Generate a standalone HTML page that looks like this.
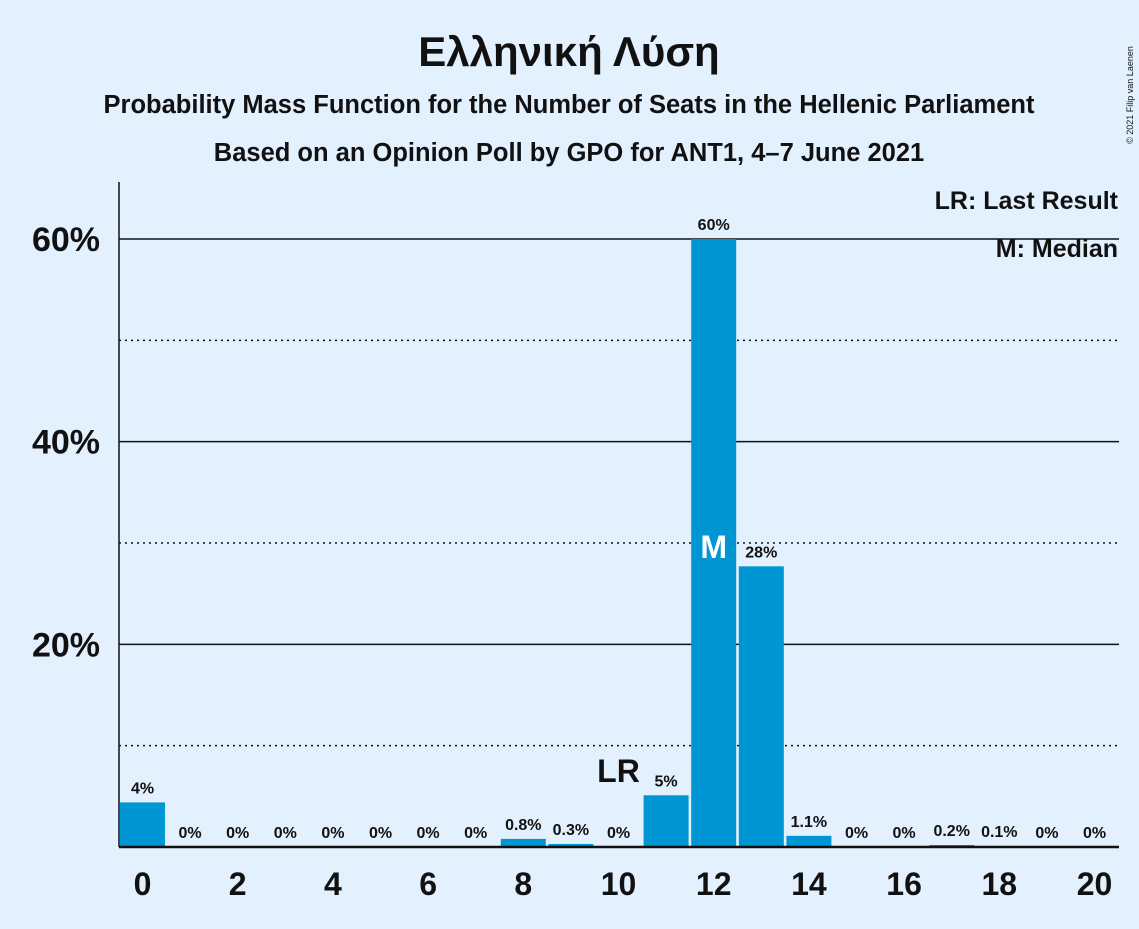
<!DOCTYPE html>
<html><head><meta charset="utf-8"><style>
body{margin:0;background:#e3f0fd;font-family:"Liberation Sans",sans-serif}
svg text{font-family:"Liberation Sans",sans-serif;font-weight:bold;fill:#111}
</style></head><body>
<svg id="c" width="1139" height="924">
<rect width="1139" height="924" fill="#e3f0fd"/>
<text x="569" y="66" font-size="42" text-anchor="middle">Ελληνική Λύση</text>
<text x="569" y="113" font-size="25.5" text-anchor="middle">Probability Mass Function for the Number of Seats in the Hellenic Parliament</text>
<text x="569" y="161" font-size="25.5" text-anchor="middle">Based on an Opinion Poll by GPO for ANT1, 4–7 June 2021</text>
<text x="1133" y="95" font-size="9" transform="rotate(-90 1133 95)" text-anchor="middle" style="font-weight:normal">© 2021 Filip van Laenen</text>
<text x="1118" y="209" font-size="25" text-anchor="end">LR: Last Result</text>
<text x="1118" y="257" font-size="25" text-anchor="end">M: Median</text>
<g id="g"></g>
</svg>
<script>
const seats=[0,1,2,3,4,5,6,7,8,9,10,11,12,13,14,15,16,17,18,19,20];
const probs=[4.4,0,0,0,0,0,0,0,0.8,0.3,0,5.1,60,27.7,1.1,0,0,0.2,0.1,0,0];
const labels=["4%","0%","0%","0%","0%","0%","0%","0%","0.8%","0.3%","0%","5%","60%","28%","1.1%","0%","0%","0.2%","0.1%","0%","0%"];
const yTicks=[20,40,60];
const yMinor=[10,30,50];
const xTicks=[0,2,4,6,8,10,12,14,16,18,20];
const lastResult=10, median=12;
const NS="http://www.w3.org/2000/svg",g=document.getElementById('g');
const x=s=>142.5+s*47.6, y=v=>847-v*10.133;
function mk(t,a,txt){const e=document.createElementNS(NS,t);for(const k in a)e.setAttribute(k,a[k]);if(txt!=null)e.textContent=txt;g.appendChild(e);return e;}
yMinor.forEach(v=>{const e=mk('line',{x1:119,x2:1119,y1:y(v),y2:y(v),stroke:'#111','stroke-width':1.5,'stroke-dasharray':'2,4'});

});
yTicks.forEach(v=>{const e=mk('line',{x1:119,x2:1119,y1:y(v),y2:y(v),stroke:'#111','stroke-width':1.5});


const t=mk('text',{x:100,y:y(v)+12,'font-size':34,'text-anchor':'end'},v+'%');

});
seats.forEach((s,i)=>{const p=probs[i];
if(p>0){const r=mk('rect',{x:x(s)-22.5,y:y(p),width:45,height:847-y(p),fill:'#0095d3'});

}
const t=mk('text',{x:x(s),y:y(p)-9,'font-size':16,'text-anchor':'middle'},labels[i]);

});
const lr=mk('text',{x:x(lastResult),y:y(probs[lastResult])-65,'font-size':32,'text-anchor':'middle'},'LR');


const m=mk('text',{x:x(median),y:558,'font-size':32,'text-anchor':'middle',style:'fill:#fff'},'M');


const ax=mk('line',{x1:119,x2:1119,y1:847,y2:847,stroke:'#111','stroke-width':2.5});


const ay=mk('line',{x1:119,x2:119,y1:182,y2:847,stroke:'#111','stroke-width':1.5});


xTicks.forEach(s=>{const t=mk('text',{x:x(s),y:895,'font-size':32,'text-anchor':'middle'},s);

});
</script>
</body></html>
